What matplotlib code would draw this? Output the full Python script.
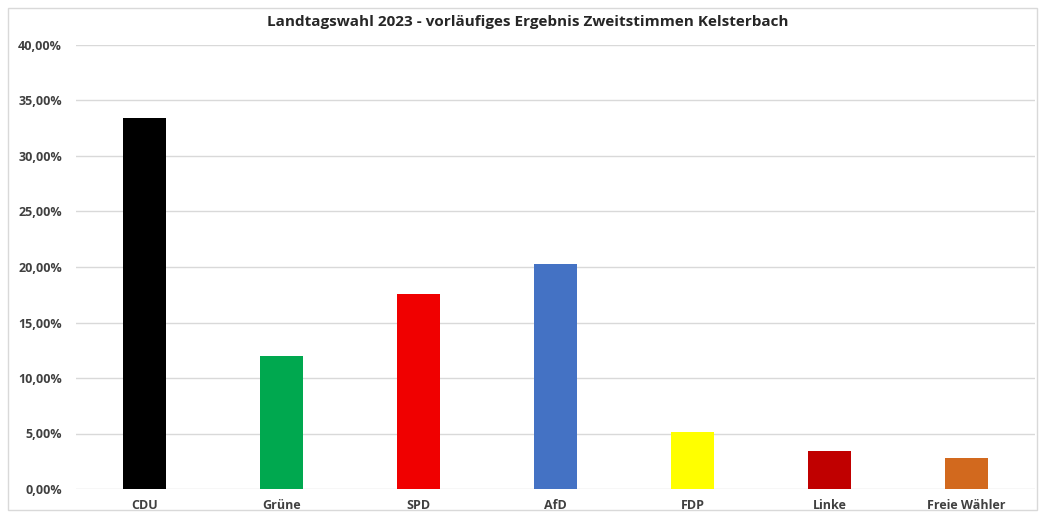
import matplotlib
matplotlib.use("Agg")
import matplotlib.pyplot as plt
from matplotlib.patches import Rectangle

categories = ["CDU", "Grüne", "SPD", "AfD", "FDP", "Linke", "Freie Wähler"]
values = [33.45, 11.95, 17.6, 20.24, 5.1, 3.45, 2.75]
colors = ["#000000", "#00a84f", "#f00000", "#4472c4", "#ffff00", "#c00000", "#d2691e"]
yticks = [0, 5, 10, 15, 20, 25, 30, 35, 40]
ytick_labels = ["0,00%", "5,00%", "10,00%", "15,00%", "20,00%", "25,00%", "30,00%", "35,00%", "40,00%"]
title = "Landtagswahl 2023 - vorläufiges Ergebnis Zweitstimmen Kelsterbach"

plt.rcParams['font.family'] = ['Open Sans', 'DejaVu Sans']

fig = plt.figure(figsize=(10.42, 5.16), dpi=100)
W, H = 1042, 516
ax = fig.add_axes([76 / W, 1 - 489 / H, (1035 - 76) / W, (489 - 45) / H])

x = list(range(len(categories)))
ax.bar(x, values, width=0.31, color=colors, zorder=3)
ax.set_xlim(-0.5, len(categories) - 0.5)
ax.set_ylim(0, 40)
ax.set_yticks(yticks)
ax.set_yticklabels(ytick_labels, fontsize=9, fontweight='bold', color='#404040')
ax.set_xticks(x)
ax.set_xticklabels(categories, fontsize=9, fontweight='bold', color='#404040')
ax.tick_params(axis='x', length=0, pad=7)
ax.tick_params(axis='y', length=0, pad=10)
ax.grid(axis='y', color='#d9d9d9', linewidth=1, zorder=0)
for s in ax.spines.values():
    s.set_visible(False)

fig.text(528 / W, 1 - 22 / H, title, ha='center', va='center',
         fontsize=11, fontweight='bold', color='#262626')

fig.patches.append(Rectangle((8 / W, 6 / H), (1037 - 8) / W, (508 - 6) / H,
                             transform=fig.transFigure, fill=False,
                             edgecolor='#d9d9d9', linewidth=1))

fig.savefig("out.png", dpi=100)
